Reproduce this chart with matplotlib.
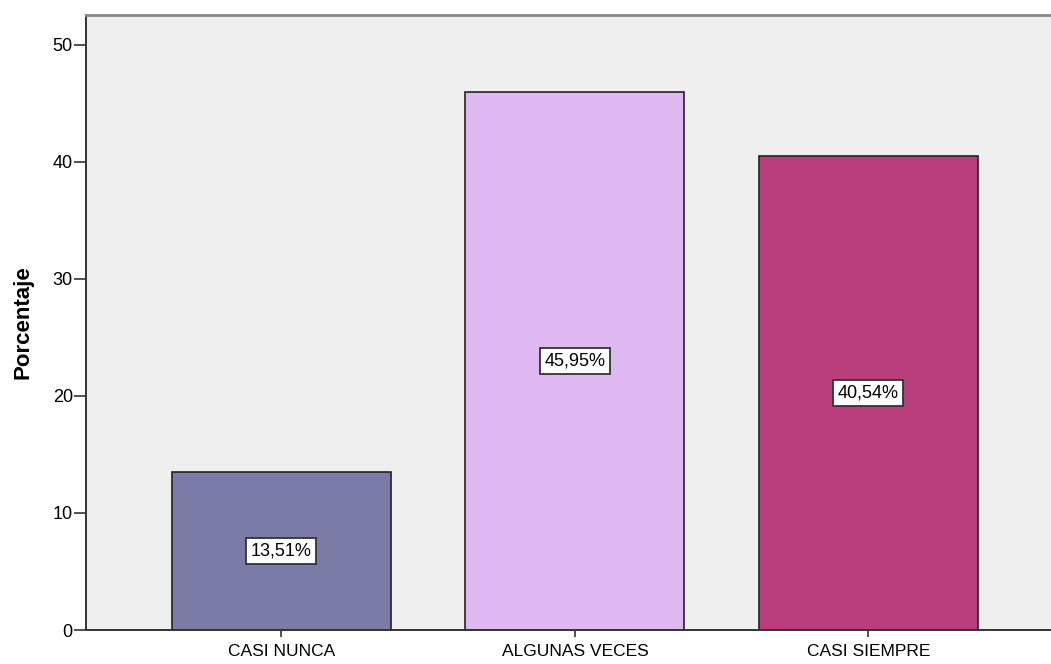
import matplotlib.pyplot as plt

plt.rcParams['font.family'] = ['Liberation Sans', 'DejaVu Sans']

categorias = ['CASI NUNCA', 'ALGUNAS VECES', 'CASI SIEMPRE']
porcentajes = [13.51, 45.95, 40.54]
etiquetas = ['13,51%', '45,95%', '40,54%']
colores = ['#7b7ba8', '#dfb8f2', '#bb3e7c']

fig = plt.figure(figsize=(10.51, 6.64), dpi=100)
ax = fig.add_axes([0.0818, 0.0512, 0.9182, 0.9262])
ax.set_facecolor('#efefef')

x = range(len(categorias))
ax.bar(x, porcentajes, width=0.746, color=colores, edgecolor='#222222', linewidth=1.2, zorder=2)

# etiquetas de porcentaje en el centro de cada barra
for xi, v, txt in zip(x, porcentajes, etiquetas):
    ax.text(xi, v / 2, txt, ha='center', va='center', fontsize=13, zorder=3,
            bbox=dict(boxstyle='square,pad=0.25', facecolor='white', edgecolor='#333333', linewidth=1.3))

ax.set_xlim(-0.666, 2.622)
ax.set_ylim(0, 52.56)
ax.set_yticks([0, 10, 20, 30, 40, 50])
ax.set_xticks(list(x))
ax.set_xticklabels(categorias, fontsize=12.5)
ax.tick_params(axis='y', labelsize=13, length=8.5, width=1.2, color='#333333', pad=1)
ax.tick_params(axis='x', length=5, width=1.2, color='#333333', pad=5)
ax.set_ylabel('Porcentaje', fontsize=16, fontweight='bold')
ax.yaxis.set_label_coords(-0.054, 0.5)

ax.spines['right'].set_visible(False)
ax.spines['top'].set_color('#888888')
ax.spines['top'].set_linewidth(2)
ax.spines['left'].set_color('#333333')
ax.spines['left'].set_linewidth(1.4)
ax.spines['bottom'].set_color('#333333')
ax.spines['bottom'].set_linewidth(1.4)

fig.savefig('out.png', dpi=100)
